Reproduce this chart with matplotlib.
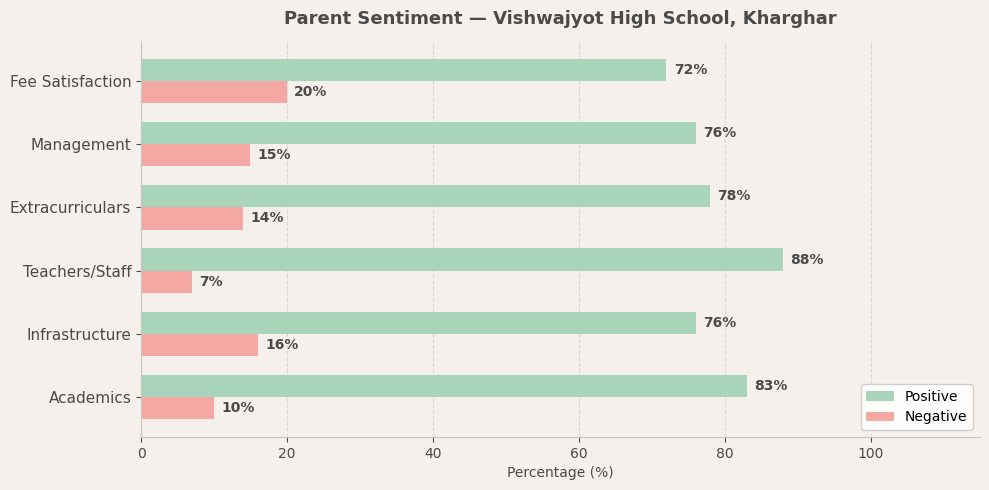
import matplotlib.pyplot as plt
import numpy as np

# données
categories = ["Academics", "Infrastructure", "Teachers/Staff", "Extracurriculars", "Management", "Fee Satisfaction"]
positive = [83, 76, 88, 78, 76, 72]
negative = [10, 16, 7, 14, 15, 20]

bg = "#f5f0eb"
txt = "#4a4a4a"
green = "#a8d5b9"
red = "#f5a7a4"

fig, ax = plt.subplots(figsize=(9.89, 4.9), dpi=100)
fig.patch.set_facecolor(bg)
ax.set_facecolor(bg)

y = np.arange(len(categories))
h = 0.35
b1 = ax.barh(y + h/2, positive, h, color=green, label="Positive")
b2 = ax.barh(y - h/2, negative, h, color=red, label="Negative")

for bars in (b1, b2):
    for b in bars:
        w = b.get_width()
        ax.text(w + 1, b.get_y() + b.get_height()/2, f"{w:.0f}%", va="center", ha="left",
                fontsize=10, fontweight="bold", color=txt)

ax.set_yticks(y)
ax.set_yticklabels(categories, fontsize=11, color=txt)
ax.set_xlim(0, 115)
ax.set_xlabel("Percentage (%)", color=txt, fontsize=10)
ax.set_title("Parent Sentiment — Vishwajyot High School, Kharghar", fontsize=13,
             fontweight="bold", color=txt, pad=12)
ax.tick_params(axis="x", colors=txt)
ax.tick_params(axis="y", colors=txt)
ax.xaxis.grid(True, linestyle="--", color="#dcd6d0", linewidth=0.8)
ax.set_axisbelow(True)
for s in ("top", "right"):
    ax.spines[s].set_visible(False)
for s in ("left", "bottom"):
    ax.spines[s].set_color("#c8c4c0")
leg = ax.legend(loc="lower right", fontsize=10, facecolor="white", framealpha=0.9)

plt.subplots_adjust(left=0.1426, right=0.991, top=0.9163, bottom=0.1082)
plt.savefig("out.png", dpi=100, facecolor=bg)
